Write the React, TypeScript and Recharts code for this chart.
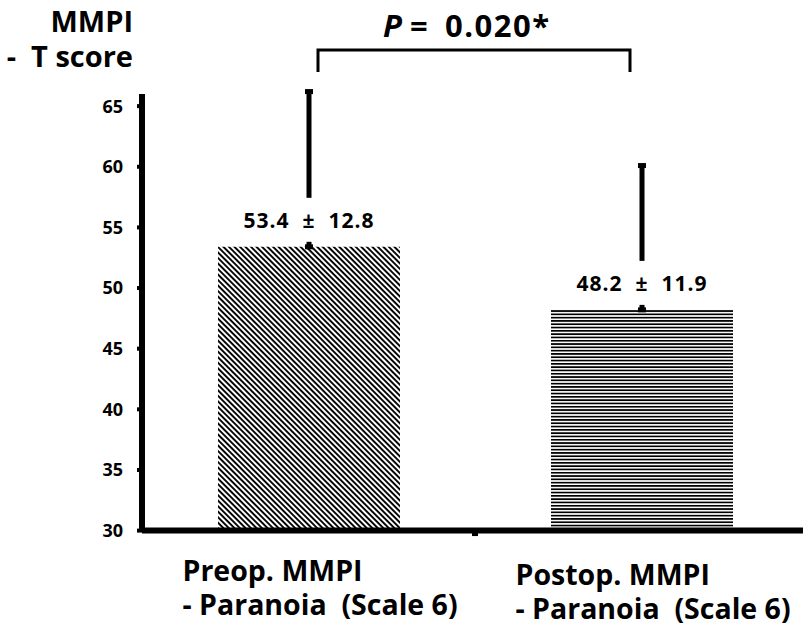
import React from 'react';
import { BarChart, Bar, XAxis, YAxis, ErrorBar, LabelList, Cell, ReferenceLine } from 'recharts';

const categories = ['Preop. MMPI', 'Postop. MMPI'];
const subtitles = ['- Paranoia  (Scale 6)', '- Paranoia  (Scale 6)'];
const means = [53.4, 48.2];
const sds = [12.8, 11.9];
const yTicks = [30, 35, 40, 45, 50, 55, 60, 65];
const fills = ['url(#diagStripe)', 'url(#horizStripe)'];

const data = categories.map((c, i) => ({
  name: c,
  sub: subtitles[i],
  mean: means[i],
  err: [0, sds[i]],
  label: `${means[i].toFixed(1)}  ±  ${sds[i].toFixed(1)}`,
}));

const FONT = "'Open Sans', 'Noto Sans', sans-serif";
const labelShift = [0, 4];

const CatTick = (props: any) => {
  const { x, y, payload } = props;
  const i = categories.indexOf(payload.value);
  const dy = labelShift[i] || 0;
  return (
    <g>
      <text x={x - 126} y={y + 50 + dy} textAnchor="start" fontFamily={FONT} fontWeight={700} fontSize={28.5} fill="#000" style={{ whiteSpace: 'pre' }}>
        {payload.value}
      </text>
      <text x={x - 126} y={y + 84 + dy} textAnchor="start" fontFamily={FONT} fontWeight={700} fontSize={28.5} fill="#000" style={{ whiteSpace: 'pre' }}>
        {subtitles[i]}
      </text>
    </g>
  );
};

const ValueLabel = (props: any) => {
  const vb = props.viewBox || props;
  const x = Number(vb.x ?? props.x);
  const y = Number(vb.y ?? props.y);
  const w = Number(vb.width ?? props.width);
  const cx = x + w / 2;
  return (
    <g>
      <rect x={cx - 12} y={y - 49} width={24} height={44} fill="#fff" />
      <text x={cx} y={y - 19} textAnchor="middle" fontFamily={FONT} fontWeight={700} fontSize={21} letterSpacing={1} fill="#000" style={{ whiteSpace: 'pre' }}>
        {props.value}
      </text>
    </g>
  );
};

export default function App() {
  return (
    <div style={{ position: 'absolute', left: 0, top: 0, width: 803, height: 629, overflow: 'hidden', background: '#fff' }}>
      <BarChart width={810} height={629} data={data} margin={{ top: 94, right: 2, bottom: 97.4, left: 0 }}>
        <defs>
          <pattern id="diagStripe" patternUnits="userSpaceOnUse" width={10} height={3.9} patternTransform="rotate(45)">
            <rect x={0} y={0} width={10} height={1.9} fill="#000" />
          </pattern>
          <pattern id="horizStripe" patternUnits="userSpaceOnUse" width={10} height={3.3}>
            <rect x={0} y={0} width={10} height={1.7} fill="#000" />
          </pattern>
        </defs>
        <XAxis
          dataKey="name"
          height={1}
          axisLine={{ stroke: '#000', strokeWidth: 6 }}
          tickLine={false}
          tickSize={0}
          tickMargin={0}
          tick={<CatTick />}
          interval={0}
        />
        <YAxis
          domain={[30, 66]}
          allowDataOverflow
          ticks={yTicks}
          interval={0}
          width={142}
          axisLine={{ stroke: '#000', strokeWidth: 6 }}
          tickLine={{ stroke: '#000', strokeWidth: 4 }}
          tickSize={5}
          tickMargin={14}
          tick={{ fill: '#000', fontSize: 18, fontWeight: 700, fontFamily: FONT }}
        />
        <Bar dataKey="mean" barSize={182} isAnimationActive={false}>
          {data.map((d, i) => (
            <Cell key={d.name} fill={fills[i]} />
          ))}
          <ErrorBar dataKey="err" width={4} strokeWidth={5} stroke="#000" direction="y" />
          <LabelList dataKey="label" content={<ValueLabel />} />
        </Bar>
        <ReferenceLine
          segment={[{ x: categories[0], y: 30 }, { x: categories[0], y: 29.55 }]}
          position="end"
          ifOverflow="visible"
          stroke="#000"
          strokeWidth={6}
        />
      </BarChart>
      <svg width={803} height={629} style={{ position: 'absolute', left: 0, top: 0, pointerEvents: 'none' }}>
        <text x={133} y={32} textAnchor="end" fontFamily={FONT} fontWeight={700} fontSize={29} fill="#000" style={{ whiteSpace: 'pre' }}>MMPI</text>
        <text x={133} y={67} textAnchor="end" fontFamily={FONT} fontWeight={700} fontSize={29} fill="#000" style={{ whiteSpace: 'pre' }}>-  T score</text>
        <text y={37} fontFamily={FONT} fontWeight={700} fontSize={31} fill="#000">
          <tspan x={383} fontStyle="italic">P</tspan>
          <tspan x={410}>=</tspan>
          <tspan x={445} letterSpacing={1.5}>0.020*</tspan>
        </text>
        <path d="M318 72 V50 H630 V72" stroke="#000" strokeWidth={3} fill="none" />
      </svg>
    </div>
  );
}
